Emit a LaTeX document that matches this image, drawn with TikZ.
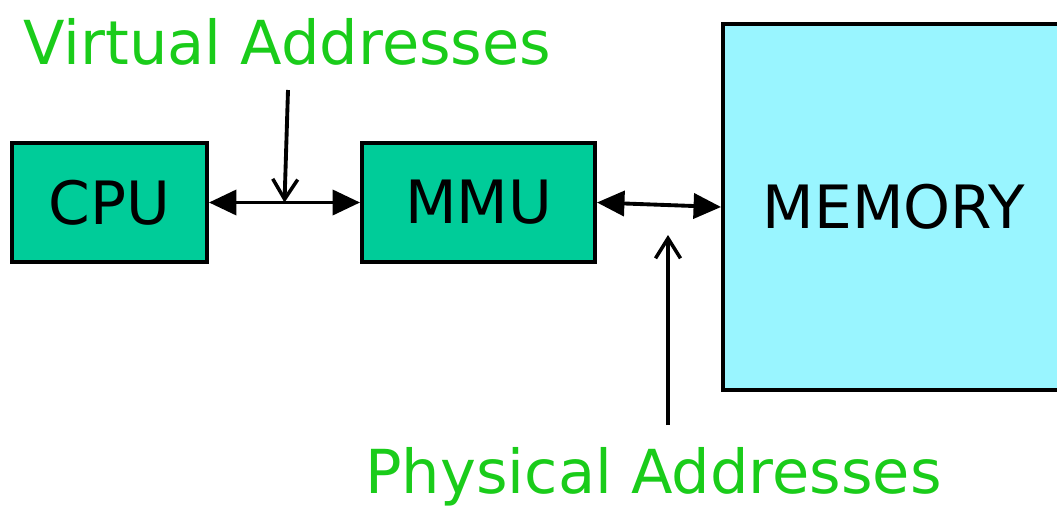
\documentclass[tikz,border=0pt]{standalone}
\usepackage{fontspec}
\setmainfont{DejaVu Sans}
\usetikzlibrary{arrows.meta,positioning,calc}
\definecolor{UnitGreen}{HTML}{00CC99}
\definecolor{MemCyan}{HTML}{99F5FF}
\definecolor{AddrGreen}{HTML}{1ACC1A}
\tikzset{
  bus/.style={{Triangle[length=5.5mm,width=5mm]}-{Triangle[length=5.5mm,width=5mm]}, line width=2.2pt},
  pointer/.style={-{Straight Barb[length=4mm,width=5mm,line width=2pt]}, line width=2.2pt},
  unit/.style={draw, line width=2.2pt, fill=UnitGreen, minimum height=2.38cm,
               font=\fontsize{34}{40}\selectfont, inner sep=0pt},
  mem/.style={unit, fill=MemCyan},
  addr/.style={text=AddrGreen, font=\fontsize{34.5}{40}\selectfont, anchor=base, inner sep=0pt},
}
\begin{document}
\begin{tikzpicture}
    \useasboundingbox (0,0) rectangle (21.14,10.18);
    \node[unit,minimum width=3.9cm] (cpu) at (2.19,6.13) {CPU};
    \node[unit,minimum width=4.66cm] (mmu) at (9.57,6.13) {MMU};
    \node[mem,minimum width=6.84cm,minimum height=7.32cm] (memory) at (17.88,6.04) {MEMORY};
    \node[addr] (virt) at (5.75,8.88) {Virtual Addresses};
    \node[addr] (phys) at (13.07,0.32) {Physical Addresses};
    % address buses
    \draw[bus] (cpu) -- (mmu);
    \draw[bus] (mmu.east) -- (memory.west);
    % pointers from the labels
    \coordinate (vtail) at (5.76,8.38);
    \coordinate (vhead) at ($(cpu.east)!0.5!(mmu.west)$);
    \draw[pointer] (vtail) -- (vhead);
    \coordinate (ptail) at (13.36,1.68);
    \coordinate (phead) at (13.36,5.48);
    \draw[pointer] (ptail) -- (phead);
  \end{tikzpicture}
\end{document}
